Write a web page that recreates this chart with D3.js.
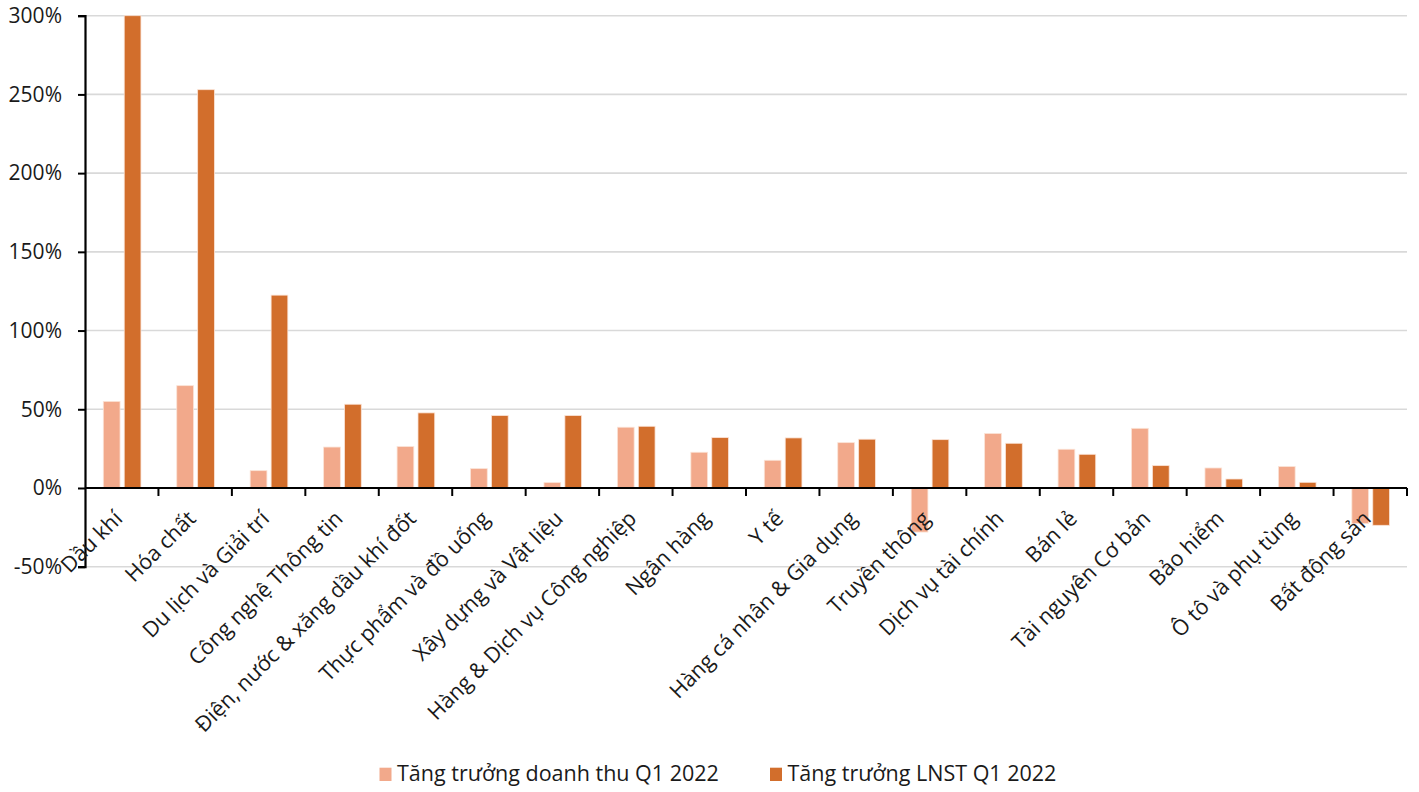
<!DOCTYPE html>
<html>
<head>
<meta charset="utf-8">
<script src="https://cdn.jsdelivr.net/npm/d3@7"></script>
<style>
  html, body { margin: 0; padding: 0; background: #ffffff; }
  svg { display: block; }
  text { font-family: "Open Sans", "Noto Sans", sans-serif; fill: #1a1a1a; }
</style>
</head>
<body>
<svg id="chart" width="1419" height="792"></svg>
<script>
const categories = [
  "Dầu khí", "Hóa chất", "Du lịch và Giải trí", "Công nghệ Thông tin",
  "Điện, nước & xăng dầu khí đốt", "Thực phẩm và đồ uống", "Xây dựng và Vật liệu",
  "Hàng & Dịch vụ Công nghiệp", "Ngân hàng", "Y tế", "Hàng cá nhân & Gia dụng",
  "Truyền thông", "Dịch vụ tài chính", "Bán lẻ", "Tài nguyên Cơ bản",
  "Bảo hiểm", "Ô tô và phụ tùng", "Bất động sản"
];
const revenueGrowth = [55, 65, 11, 26, 26.3, 12.3, 3.4, 38.6, 22.7, 17.6, 28.8, -28, 34.6, 24.6, 37.9, 12.7, 13.6, -22.6];
const profitGrowth  = [300, 253, 122.5, 53.2, 47.7, 46, 46, 39.2, 32, 31.8, 31, 30.7, 28.4, 21.4, 14.2, 5.7, 3.6, -23.7];
const seriesNames = ["Tăng trưởng doanh thu Q1 2022", "Tăng trưởng LNST Q1 2022"];
const yTicks = [-50, 0, 50, 100, 150, 200, 250, 300];

const colors = ["#F2A98B", "#D26E2C"];

const svg = d3.select("#chart");
const mLeft = 85, mRight = 1407, mTop = 15.7, mBottom = 566.7;

const x = d3.scaleBand().domain(categories).range([mLeft, mRight]).paddingInner(0).paddingOuter(0);
const y = d3.scaleLinear().domain([-50, 300]).range([mBottom, mTop]);
const sub = d3.scaleBand().domain([0, 1]).range([18.3, x.bandwidth() - 17.5]).paddingInner(0.2);

// gridlines
svg.append("g").selectAll("line").data(yTicks.filter(d => d !== 0)).join("line")
  .attr("x1", mLeft).attr("x2", mRight)
  .attr("y1", d => y(d)).attr("y2", d => y(d))
  .attr("stroke", "#d9d9d9").attr("stroke-width", 1.6);

// bars
const series = [revenueGrowth, profitGrowth];
series.forEach((vals, si) => {
  svg.append("g").selectAll("rect").data(vals).join("rect")
    .attr("x", (d, i) => x(categories[i]) + sub(si))
    .attr("width", sub.bandwidth())
    .attr("y", d => y(Math.max(0, d)))
    .attr("height", d => Math.abs(y(d) - y(0)))
    .attr("fill", colors[si])
    .attr("stroke", "#fbe3d6").attr("stroke-width", 0.8);
});

// y axis
const yAxis = d3.axisLeft(y).tickValues(yTicks).tickFormat(d => d + "%").tickSize(7).tickPadding(16);
const gy = svg.append("g").attr("transform", `translate(${mLeft},0)`).call(yAxis);
gy.select(".domain").attr("stroke", "#000").attr("stroke-width", 2.2);
gy.selectAll(".tick line").attr("stroke", "#000").attr("stroke-width", 2);
gy.selectAll(".tick text").attr("font-size", 21).attr("fill", "#1a1a1a")
  .style("font-family", '"Open Sans", sans-serif');

// x axis line at zero with ticks at band boundaries
const boundaries = categories.map(c => x(c)).concat([mRight]);
svg.append("line").attr("x1", mLeft).attr("x2", mRight)
  .attr("y1", y(0)).attr("y2", y(0)).attr("stroke", "#000").attr("stroke-width", 2.2);
svg.append("g").selectAll("line").data(boundaries.slice(1)).join("line")
  .attr("x1", d => d).attr("x2", d => d)
  .attr("y1", y(0)).attr("y2", y(0) + 8)
  .attr("stroke", "#000").attr("stroke-width", 2);

// category labels
svg.append("g").selectAll("text").data(categories).join("text")
  .attr("transform", d => `translate(${x(d) + x.bandwidth() / 2 + 2},${y(0) + 32}) rotate(-45)`)
  .attr("text-anchor", "end")
  .attr("font-size", 21.5)
  .text(d => d);

// legend
const legend = svg.append("g");
const legendX = [379.5, 770];
seriesNames.forEach((name, i) => {
  legend.append("rect").attr("x", legendX[i]).attr("y", 767.7).attr("width", 12).attr("height", 13.3).attr("fill", colors[i]);
  legend.append("text").attr("x", legendX[i] + 17.5).attr("y", 781)
    .attr("font-size", 21.5).text(name);
});
</script>
</body>
</html>
